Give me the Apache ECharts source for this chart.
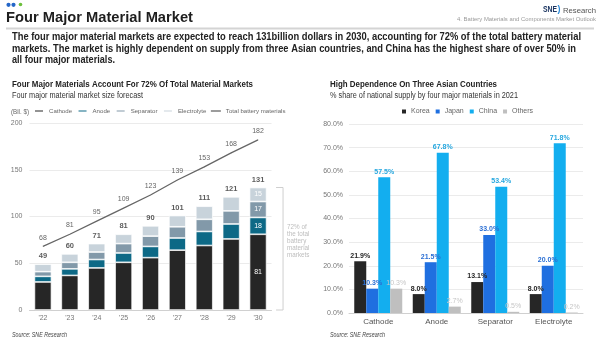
<!DOCTYPE html>
<html><head><meta charset="utf-8">
<script src="https://cdn.jsdelivr.net/npm/echarts@6/dist/echarts.min.js"></script>
<style>html,body{margin:0;padding:0;background:#fff}#c{width:600px;height:344px}</style>
</head><body><div id="c"></div>
<script>
// ---- data ----
const years = ["'22","'23","'24","'25","'26","'27","'28","'29","'30"];
const cathode = [30,37,45,51,56,64,69,76,81];
const anode = [6,7,9,10,12,13,15,16,18];
const separator = [5,7,8,10,11,12,13,14,17];
const electrolyte = [8,9,9,10,11,12,14,15,15];
const totalBattery = [68,81,95,109,123,139,153,168,182];
const leftTicks = [0,50,100,150,200];

const materials = ['Cathode','Anode','Separator','Electrolyte'];
const korea = [21.9,8.0,13.1,8.0];
const japan = [10.3,21.5,33.0,20.0];
const china = [57.5,67.8,53.4,71.8];
const others = [10.3,2.7,0.5,0.2];

const fourTotal = years.map((_, i) => cathode[i] + anode[i] + separator[i] + electrolyte[i]);

// ---- helpers ----
const FF = '"Liberation Sans", Arial, sans-serif';
const mctx = document.createElement('canvas').getContext('2d');
function txt(text, x, y, size, weight, color, targetW, fstyle, align) {
  fstyle = fstyle || 'normal';
  mctx.font = fstyle + ' ' + weight + ' ' + size + 'px ' + FF;
  const w = mctx.measureText(text).width;
  const sx = targetW ? targetW / w : 1;
  return {
    type: 'text', x: x, y: y, scaleX: sx, silent: true,
    style: { text: text, fontSize: size, fontWeight: weight, fontStyle: fstyle, fontFamily: FF,
      fill: color, align: align || 'left', verticalAlign: 'middle', textVerticalAlign: 'middle' }
  };
}

const lastIdx = years.length - 1;
function segData(arr) {
  return arr.map((v, i) => i === lastIdx
    ? { value: v, label: { show: true, position: 'inside', color: '#fff', fontSize: 7 } }
    : v);
}
const barBase = { type: 'bar', stack: 'm', barWidth: 17, xAxisIndex: 0, yAxisIndex: 0,
  itemStyle: { borderColor: '#fff', borderWidth: 0.7 } };
const pctLabel = (color, weight) => ({ show: true, position: 'top', distance: 2, fontSize: 7,
  fontWeight: weight, color: color, formatter: p => p.value.toFixed(1) + '%' });

const chart = echarts.init(document.getElementById('c'), null, { renderer: 'canvas' });
const option = {
  animation: false,
  textStyle: { fontFamily: FF },
  legend: [
    { data: [
        { name: 'Cathode', icon: 'rect' }, { name: 'Anode', icon: 'rect' },
        { name: 'Separator', icon: 'rect' }, { name: 'Electrolyte', icon: 'rect' },
        { name: 'Total battery materials', icon: 'path://M0,0H10V1.3H0Z' }],
      left: 33, top: 108, itemWidth: 10, itemHeight: 3, itemGap: 4.5, padding: 0,
      textStyle: { fontSize: 6.1, color: '#666' } },
    { data: ['Korea','Japan','China','Others'], left: 402, top: 108, icon: 'rect',
      itemWidth: 4, itemHeight: 4, itemGap: 6, padding: 0,
      textStyle: { fontSize: 7, color: '#666' } }
  ],
  grid: [
    { left: 29.5, top: 123, width: 242, height: 187 },
    { left: 349, top: 124, width: 234, height: 189 }
  ],
  xAxis: [
    { type: 'category', gridIndex: 0, data: years,
      axisLine: { lineStyle: { color: '#d0d0d0' } }, axisTick: { show: false },
      axisLabel: { fontSize: 7, color: '#777', margin: 5 } },
    { type: 'category', gridIndex: 1, data: materials,
      axisLine: { lineStyle: { color: '#d0d0d0' } }, axisTick: { show: false },
      axisLabel: { fontSize: 8, color: '#555', margin: 5 } }
  ],
  yAxis: [
    { type: 'value', gridIndex: 0, min: leftTicks[0], max: leftTicks[leftTicks.length - 1], interval: 50,
      axisLine: { show: false }, axisTick: { show: false },
      splitLine: { lineStyle: { color: '#ebebeb' } },
      axisLabel: { fontSize: 7, color: '#777', margin: 7 } },
    { type: 'value', gridIndex: 1, min: 0, max: 80, interval: 10,
      axisLine: { show: false }, axisTick: { show: false },
      splitLine: { lineStyle: { color: '#ebebeb' } },
      axisLabel: { fontSize: 7, color: '#777', margin: 6, formatter: v => v.toFixed(1) + '%' } }
  ],
  series: [
    Object.assign({ name: 'Cathode', data: segData(cathode), color: '#262626' }, barBase),
    Object.assign({ name: 'Anode', data: segData(anode), color: '#0d6986' }, barBase),
    Object.assign({ name: 'Separator', data: segData(separator), color: '#8299a9' }, barBase),
    Object.assign({ name: 'Electrolyte', data: segData(electrolyte), color: '#c8d3db' }, barBase),
    { name: 'Totals', type: 'scatter', xAxisIndex: 0, yAxisIndex: 0, data: fourTotal, symbolSize: 0,
      silent: true, z: 5,
      label: { show: true, position: 'top', distance: 4, fontSize: 7.5, fontWeight: 'bold', color: '#333' } },
    { name: 'Total battery materials', type: 'line', xAxisIndex: 0, yAxisIndex: 0, data: totalBattery,
      color: '#666', symbol: 'circle', symbolSize: 0.5, showSymbol: true, z: 6,
      itemStyle: { color: '#666' },
      lineStyle: { color: '#666', width: 1.3 },
      label: { show: true, position: 'top', distance: 5, fontSize: 7, color: '#666' } },

    { name: 'Korea', type: 'bar', xAxisIndex: 1, yAxisIndex: 1, data: korea, color: '#262626',
      barWidth: 12, barGap: '0%', label: pctLabel('#262626', 'bold') },
    { name: 'Japan', type: 'bar', xAxisIndex: 1, yAxisIndex: 1, data: japan, color: '#1f6fe0',
      barWidth: 12, barGap: '0%', label: pctLabel('#2a6fd4', 'bold') },
    { name: 'China', type: 'bar', xAxisIndex: 1, yAxisIndex: 1, data: china, color: '#13aeef',
      barWidth: 12, barGap: '0%', label: pctLabel('#26a7df', 'bold') },
    { name: 'Others', type: 'bar', xAxisIndex: 1, yAxisIndex: 1, data: others, color: '#bfbfbf',
      barWidth: 12, barGap: '0%', label: pctLabel('#c6c6c6', 'normal') }
  ]
};
chart.setOption(option);

// ---- annotations / page text ----
const topPt = chart.convertToPixel({ xAxisIndex: 0, yAxisIndex: 0 }, [years[lastIdx], fourTotal[lastIdx]]);
const basePt = chart.convertToPixel({ xAxisIndex: 0, yAxisIndex: 0 }, [years[lastIdx], 0]);
const bx1 = topPt[0] + 18, bx2 = topPt[0] + 25;

const els = [
  // logo dots
  { type: 'circle', shape: { cx: 8.5, cy: 4.8, r: 2.1 }, style: { fill: '#2466c8' } },
  { type: 'circle', shape: { cx: 13.5, cy: 4.8, r: 2.1 }, style: { fill: '#2466c8' } },
  { type: 'circle', shape: { cx: 20.5, cy: 4.5, r: 1.8 }, style: { fill: '#6cbf3c' } },
  txt('Four Major Material Market', 6, 18, 15, 'bold', '#1e1e1e', 187),
  { type: 'rect', shape: { x: 6, y: 27.5, width: 588, height: 2 }, style: { fill: '#d4d4d4' } },
  txt('SNE', 543, 10, 8.5, 'bold', '#1b3561', 14),
  txt(')', 557.5, 10, 9, 'bold', '#2c8ad8', 3),
  txt('Research', 563, 10.5, 7.5, 'normal', '#555', 33),
  txt('4. Battery Materials and Components Market Outlook', 457, 19.5, 6, 'normal', '#9a9a9a', 139),
  txt('The four major material markets are expected to reach 131billion dollars in 2030, accounting for 72% of the total battery material', 12, 37, 11, 'bold', '#222', 569),
  txt('markets. The market is highly dependent on supply from three Asian countries, and China has the highest share of over 50% in', 12, 48.5, 11, 'bold', '#222', 564),
  txt('all four major materials.', 12, 60, 11, 'bold', '#222', 103),
  txt('Four Major Materials Account For 72% Of Total Material Markets', 12, 85, 9, 'bold', '#222', 241),
  txt('Four major material market size forecast', 12, 95.5, 8.5, 'normal', '#333', 131),
  txt('(Bil. $)', 11, 112, 6.3, 'normal', '#666', 18),
  txt('High Dependence On Three Asian Countries', 330, 85, 9, 'bold', '#222', 167),
  txt('% share of national supply by four major materials in 2021', 330, 95.5, 8.5, 'normal', '#333', 188),
  txt('Source: SNE Research', 12, 335, 6.5, 'normal', '#444', 55, 'italic'),
  txt('Source: SNE Research', 330, 335, 6.5, 'normal', '#444', 55, 'italic'),
  // bracket
  { type: 'polyline', silent: true,
    shape: { points: [[bx1, topPt[1]], [bx2, topPt[1]], [bx2, basePt[1]], [bx1, basePt[1]]] },
    style: { stroke: '#cfcfcf', lineWidth: 1, fill: null } },
  { type: 'text', x: bx2 + 4, y: 224, silent: true,
    style: { text: '72% of\nthe total\nbattery\nmaterial\nmarkets', fontSize: 6.3, lineHeight: 7,
      fontFamily: FF, fill: '#bdbdbd', align: 'left', verticalAlign: 'top' } }
];
chart.setOption({ graphic: { elements: els } });
</script>
</body></html>
